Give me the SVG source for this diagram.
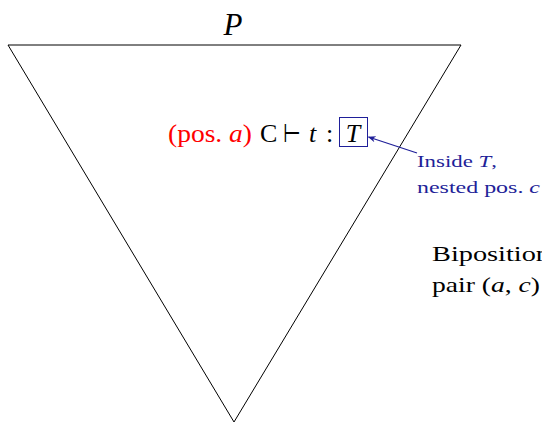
<svg xmlns="http://www.w3.org/2000/svg" width="542" height="423" viewBox="0 0 542 423">
<style>
text{font-family:"Liberation Serif","Times New Roman",serif;}
.it{font-style:italic;}
.navy{fill:#1f1f99;}
.j{font-size:26px;}
</style>
<defs>
<marker id="ah" viewBox="0 0 10 10" refX="9" refY="5" markerWidth="8" markerHeight="8" orient="auto" markerUnits="userSpaceOnUse">
<path d="M0,1 L10,5 L0,9 L3,5 Z" fill="#1f1f99"/>
</marker>
</defs>
<g id="triangle">
<polygon points="8,45 461,45 234,422" fill="none" stroke="#000" stroke-width="1"/>
<text x="233" y="35" font-size="31" class="it" text-anchor="middle">P</text>
</g>
<g id="judgement">
<text x="168" y="142" class="j" fill="#ff0000" textLength="84" lengthAdjust="spacingAndGlyphs">(pos. <tspan class="it">a</tspan>)</text>
<text x="260" y="142" class="j">C</text>
<text x="283" y="142" class="j" textLength="18" lengthAdjust="spacingAndGlyphs">⊢</text>
<text x="309" y="142" class="j it">t</text>
<text x="326" y="142" class="j">:</text>
<rect x="339.5" y="117.5" width="28" height="29" fill="none" stroke="#1f1f99" stroke-width="1"/>
<text x="353" y="142" class="j it" text-anchor="middle">T</text>
</g>
<g id="note">
<text x="417" y="167" font-size="17" class="navy" textLength="80" lengthAdjust="spacingAndGlyphs">Inside <tspan class="it">T</tspan>,</text>
<text x="417" y="193" font-size="17" class="navy" textLength="123" lengthAdjust="spacingAndGlyphs">nested pos. <tspan class="it">c</tspan></text>
</g>
<g id="biposition">
<text x="432" y="261" font-size="22" textLength="118" lengthAdjust="spacingAndGlyphs">Biposition</text>
<text x="432" y="292" font-size="22" textLength="108" lengthAdjust="spacingAndGlyphs">pair (<tspan class="it">a</tspan>, <tspan class="it">c</tspan>)</text>
</g>
<g id="connectors">
<line x1="417" y1="153" x2="368.5" y2="137" stroke="#1f1f99" stroke-width="1.2" marker-end="url(#ah)"/>
</g>
</svg>
